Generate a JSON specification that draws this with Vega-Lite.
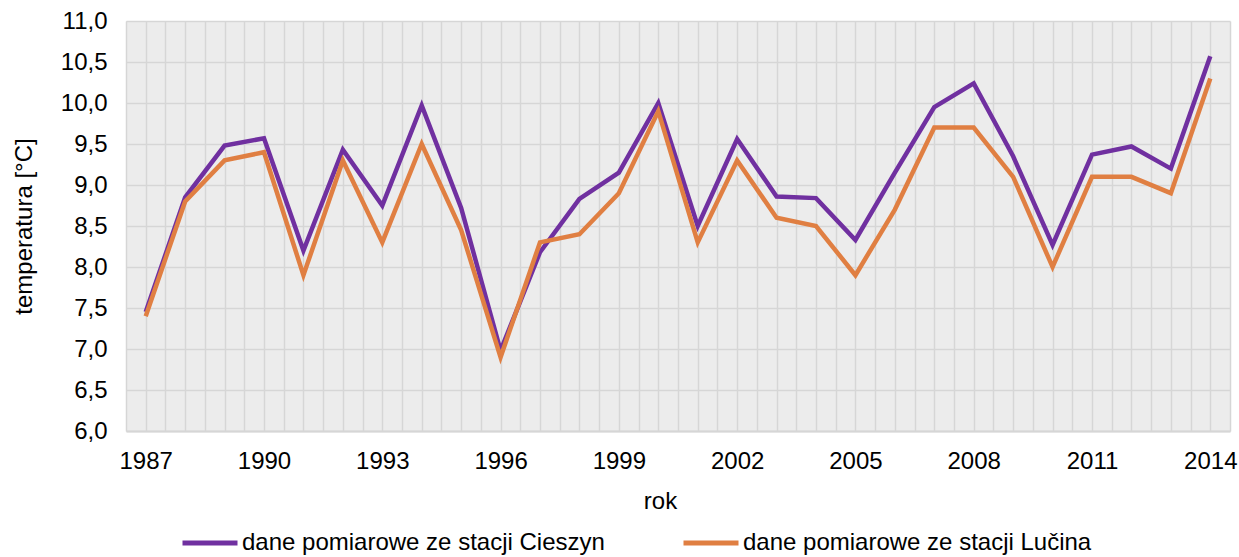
{
  "$schema": "https://vega.github.io/schema/vega-lite/v6.json",
  "width": 1104,
  "height": 410,
  "autosize": {"type": "none"},
  "padding": {"left": 126, "top": 21, "right": 9, "bottom": 126},
  "background": "white",
  "config": {
    "font": "Liberation Sans",
    "view": {"stroke": null, "fill": "#ececec"}
  },
  "data": {
    "values": [
      {"rok": 1987, "seria": "dane pomiarowe ze stacji Cieszyn", "t": 7.45},
      {"rok": 1988, "seria": "dane pomiarowe ze stacji Cieszyn", "t": 8.85},
      {"rok": 1989, "seria": "dane pomiarowe ze stacji Cieszyn", "t": 9.48},
      {"rok": 1990, "seria": "dane pomiarowe ze stacji Cieszyn", "t": 9.57},
      {"rok": 1991, "seria": "dane pomiarowe ze stacji Cieszyn", "t": 8.2},
      {"rok": 1992, "seria": "dane pomiarowe ze stacji Cieszyn", "t": 9.43},
      {"rok": 1993, "seria": "dane pomiarowe ze stacji Cieszyn", "t": 8.75},
      {"rok": 1994, "seria": "dane pomiarowe ze stacji Cieszyn", "t": 9.97},
      {"rok": 1995, "seria": "dane pomiarowe ze stacji Cieszyn", "t": 8.72},
      {"rok": 1996, "seria": "dane pomiarowe ze stacji Cieszyn", "t": 6.98},
      {"rok": 1997, "seria": "dane pomiarowe ze stacji Cieszyn", "t": 8.18},
      {"rok": 1998, "seria": "dane pomiarowe ze stacji Cieszyn", "t": 8.83},
      {"rok": 1999, "seria": "dane pomiarowe ze stacji Cieszyn", "t": 9.15},
      {"rok": 2000, "seria": "dane pomiarowe ze stacji Cieszyn", "t": 10.0},
      {"rok": 2001, "seria": "dane pomiarowe ze stacji Cieszyn", "t": 8.5},
      {"rok": 2002, "seria": "dane pomiarowe ze stacji Cieszyn", "t": 9.56},
      {"rok": 2003, "seria": "dane pomiarowe ze stacji Cieszyn", "t": 8.86},
      {"rok": 2004, "seria": "dane pomiarowe ze stacji Cieszyn", "t": 8.84},
      {"rok": 2005, "seria": "dane pomiarowe ze stacji Cieszyn", "t": 8.33},
      {"rok": 2006, "seria": "dane pomiarowe ze stacji Cieszyn", "t": 9.15},
      {"rok": 2007, "seria": "dane pomiarowe ze stacji Cieszyn", "t": 9.95},
      {"rok": 2008, "seria": "dane pomiarowe ze stacji Cieszyn", "t": 10.24},
      {"rok": 2009, "seria": "dane pomiarowe ze stacji Cieszyn", "t": 9.35},
      {"rok": 2010, "seria": "dane pomiarowe ze stacji Cieszyn", "t": 8.27},
      {"rok": 2011, "seria": "dane pomiarowe ze stacji Cieszyn", "t": 9.37},
      {"rok": 2012, "seria": "dane pomiarowe ze stacji Cieszyn", "t": 9.47},
      {"rok": 2013, "seria": "dane pomiarowe ze stacji Cieszyn", "t": 9.2},
      {"rok": 2014, "seria": "dane pomiarowe ze stacji Cieszyn", "t": 10.57},
      {"rok": 1987, "seria": "dane pomiarowe ze stacji Lučina", "t": 7.4},
      {"rok": 1988, "seria": "dane pomiarowe ze stacji Lučina", "t": 8.8},
      {"rok": 1989, "seria": "dane pomiarowe ze stacji Lučina", "t": 9.3},
      {"rok": 1990, "seria": "dane pomiarowe ze stacji Lučina", "t": 9.4},
      {"rok": 1991, "seria": "dane pomiarowe ze stacji Lučina", "t": 7.9},
      {"rok": 1992, "seria": "dane pomiarowe ze stacji Lučina", "t": 9.3},
      {"rok": 1993, "seria": "dane pomiarowe ze stacji Lučina", "t": 8.3},
      {"rok": 1994, "seria": "dane pomiarowe ze stacji Lučina", "t": 9.5},
      {"rok": 1995, "seria": "dane pomiarowe ze stacji Lučina", "t": 8.45},
      {"rok": 1996, "seria": "dane pomiarowe ze stacji Lučina", "t": 6.9},
      {"rok": 1997, "seria": "dane pomiarowe ze stacji Lučina", "t": 8.3},
      {"rok": 1998, "seria": "dane pomiarowe ze stacji Lučina", "t": 8.4},
      {"rok": 1999, "seria": "dane pomiarowe ze stacji Lučina", "t": 8.9},
      {"rok": 2000, "seria": "dane pomiarowe ze stacji Lučina", "t": 9.9},
      {"rok": 2001, "seria": "dane pomiarowe ze stacji Lučina", "t": 8.3},
      {"rok": 2002, "seria": "dane pomiarowe ze stacji Lučina", "t": 9.3},
      {"rok": 2003, "seria": "dane pomiarowe ze stacji Lučina", "t": 8.6},
      {"rok": 2004, "seria": "dane pomiarowe ze stacji Lučina", "t": 8.5},
      {"rok": 2005, "seria": "dane pomiarowe ze stacji Lučina", "t": 7.9},
      {"rok": 2006, "seria": "dane pomiarowe ze stacji Lučina", "t": 8.7},
      {"rok": 2007, "seria": "dane pomiarowe ze stacji Lučina", "t": 9.7},
      {"rok": 2008, "seria": "dane pomiarowe ze stacji Lučina", "t": 9.7},
      {"rok": 2009, "seria": "dane pomiarowe ze stacji Lučina", "t": 9.1},
      {"rok": 2010, "seria": "dane pomiarowe ze stacji Lučina", "t": 8.0},
      {"rok": 2011, "seria": "dane pomiarowe ze stacji Lučina", "t": 9.1},
      {"rok": 2012, "seria": "dane pomiarowe ze stacji Lučina", "t": 9.1},
      {"rok": 2013, "seria": "dane pomiarowe ze stacji Lučina", "t": 8.9},
      {"rok": 2014, "seria": "dane pomiarowe ze stacji Lučina", "t": 10.3}
    ]
  },
  "mark": {"type": "line", "strokeWidth": 4.5},
  "encoding": {
    "x": {
      "field": "rok",
      "type": "quantitative",
      "scale": {"domain": [1986.5, 2014.5], "nice": false, "zero": false},
      "axis": {
        "title": "rok",
        "titleX": 534,
        "values": [1986.5, 1987, 1987.5, 1988, 1988.5, 1989, 1989.5, 1990, 1990.5, 1991, 1991.5, 1992, 1992.5, 1993, 1993.5, 1994, 1994.5, 1995, 1995.5, 1996, 1996.5, 1997, 1997.5, 1998, 1998.5, 1999, 1999.5, 2000, 2000.5, 2001, 2001.5, 2002, 2002.5, 2003, 2003.5, 2004, 2004.5, 2005, 2005.5, 2006, 2006.5, 2007, 2007.5, 2008, 2008.5, 2009, 2009.5, 2010, 2010.5, 2011, 2011.5, 2012, 2012.5, 2013, 2013.5, 2014, 2014.5],
        "labelExpr": "(datum.value - 1987) % 3 == 0 ? format(datum.value, 'd') : ''",
        "labelOverlap": false,
        "labelFlush": false,
        "grid": true,
        "gridColor": "#d6d6d6",
        "gridWidth": 1.5,
        "domain": true,
        "domainColor": "#d6d6d6",
        "domainWidth": 2,
        "ticks": false,
        "tickSize": 0,
        "labelPadding": 18,
        "labelFontSize": 24,
        "labelColor": "#000000",
        "titleFontSize": 24,
        "titleFontWeight": "normal",
        "titleColor": "#000000",
        "titlePadding": 16
      }
    },
    "y": {
      "field": "t",
      "type": "quantitative",
      "scale": {"domain": [6, 11], "nice": false, "zero": false},
      "axis": {
        "title": "temperatura [°C]",
        "values": [6, 6.5, 7, 7.5, 8, 8.5, 9, 9.5, 10, 10.5, 11],
        "labelExpr": "replace(format(datum.value, '.1f'), '.', ',')",
        "grid": true,
        "gridColor": "#d6d6d6",
        "gridWidth": 1.5,
        "domain": false,
        "ticks": false,
        "tickSize": 0,
        "labelPadding": 19,
        "labelFontSize": 24,
        "labelColor": "#000000",
        "titleFontSize": 24,
        "titleFontWeight": "normal",
        "titleColor": "#000000",
        "titlePadding": 24
      }
    },
    "color": {
      "field": "seria",
      "type": "nominal",
      "scale": {
        "domain": ["dane pomiarowe ze stacji Cieszyn", "dane pomiarowe ze stacji Lučina"],
        "range": ["#7030a0", "#e07f42"]
      },
      "legend": {
        "title": null,
        "orient": "none",
        "legendX": 54,
        "legendY": 492,
        "direction": "horizontal",
        "columns": 2,
        "symbolType": "stroke",
        "symbolSize": 3025,
        "symbolStrokeWidth": 5,
        "labelFontSize": 24,
        "labelLimit": 0,
        "labelOffset": 2,
        "columnPadding": 68,
        "labelColor": "#000000"
      }
    }
  }
}
